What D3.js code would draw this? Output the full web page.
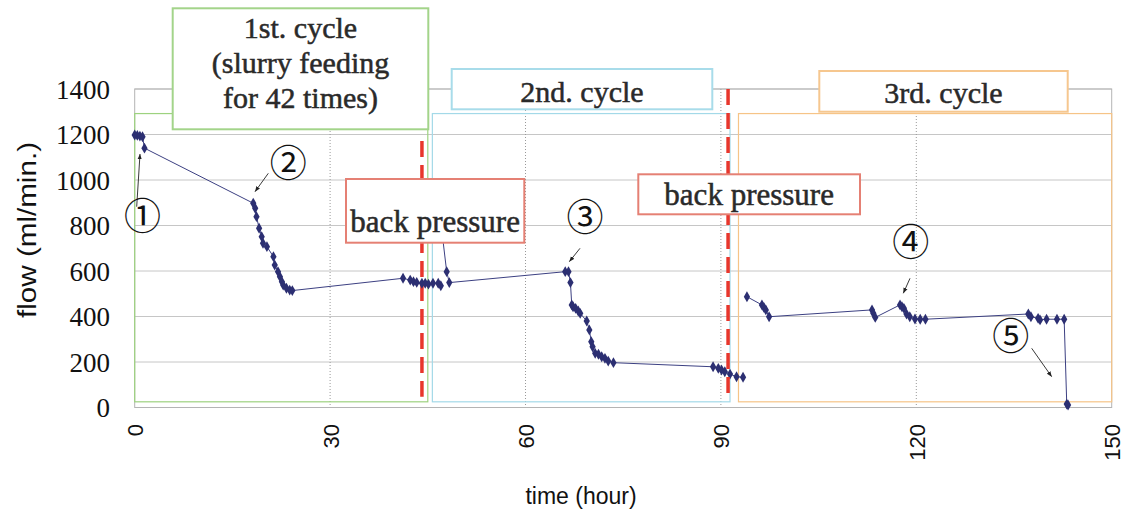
<!DOCTYPE html>
<html>
<head>
<meta charset="utf-8">
<script src="https://cdn.jsdelivr.net/npm/d3@7"></script>
<style>
body { margin: 0; background: #fff; }
</style>
</head>
<body>
<div id="container"></div>
<script>
var width = 1127,
    height = 519,
    margin = { left: 134.7, top: 89, right: 15.3, bottom: 111.5 },
    g_width = width - margin.left - margin.right,
    g_height = height - margin.top - margin.bottom;

// [hour, flow]
var cycle1 = [[0, 1198], [0.4, 1196], [0.8, 1193], [1.2, 1190], [1.5, 1140],
  [18.2, 898], [18.5, 876], [18.7, 839], [19.1, 788], [19.5, 751], [19.7, 722],
  [20.3, 707], [21.3, 663], [21.5, 626], [22.0, 597], [22.3, 575], [22.6, 553],
  [22.8, 538], [23.3, 524], [23.8, 516], [24.2, 514],
  [41.2, 568], [42.3, 560], [42.8, 553], [43.3, 550], [44.1, 546], [44.6, 546],
  [45.1, 542], [45.8, 546], [46.6, 546], [47.0, 535]];

var cycle2 = [[46.7, 886], [47.9, 597], [48.3, 549], [66.1, 597], [66.6, 597],
  [66.9, 549], [67.1, 451], [67.3, 443], [67.7, 436], [68.1, 424], [68.4, 414],
  [69.4, 380], [69.8, 341], [70.1, 289], [70.3, 267], [70.7, 238], [71.2, 234],
  [71.7, 223], [72.2, 216], [72.7, 204], [73.5, 197],
  [88.8, 179], [89.6, 172], [90.1, 165], [90.6, 157], [91.4, 147], [92.4, 135], [93.4, 133]];

var cycle3 = [[94.0, 487], [96.3, 451], [96.6, 440], [96.9, 429], [97.4, 399],
  [113.2, 429], [113.4, 414], [113.7, 396], [117.5, 451], [117.8, 443], [118.1, 436],
  [118.5, 411], [119.0, 399], [119.8, 389], [120.6, 388], [121.4, 388],
  [137.2, 411], [137.6, 399], [138.7, 392], [139.0, 385], [140.0, 388], [141.6, 388],
  [142.7, 388], [143.1, 15], [143.3, 11]];

var x_ticks = [0, 30, 60, 90, 120, 150];
var y_ticks = [0, 200, 400, 600, 800, 1000, 1200, 1400];

// cycle spans (hours) and their frame colours
var cycle_spans = [[0, 45.0], [45.7, 91.4], [92.7, 150]];
var cycle_colors = ["#9dd27f", "#a3d9e8", "#f6c487"];
var span_top = 1292, span_bottom = 25;

// back pressure dashed lines: hour, from flow, to flow
var bp_lines = [[44.1, 1171, 47], [91.1, 1400, 60]];

var svg = d3.select("#container")
  .append("svg")
  .attr("width", width)
  .attr("height", height)
  .style("font-family", "'Liberation Sans', Arial, sans-serif");

var g = svg.append("g")
  .attr("transform", "translate(" + margin.left + "," + margin.top + ")");

var scale_x = d3.scaleLinear().domain([0, 150]).range([0, g_width]);
var scale_y = d3.scaleLinear().domain([0, 1400]).range([g_height, 0]);

// grid
g.selectAll(".hgrid").data(y_ticks.slice(1))
  .enter().append("line")
  .attr("x1", 0).attr("x2", g_width)
  .attr("y1", scale_y).attr("y2", scale_y)
  .attr("stroke", "#c6c6c6").attr("stroke-width", 1);

g.selectAll(".vgrid").data(x_ticks.slice(1, -1))
  .enter().append("line")
  .attr("x1", scale_x).attr("x2", scale_x)
  .attr("y1", 0).attr("y2", g_height)
  .attr("stroke", "#999").attr("stroke-width", 1)
  .attr("stroke-dasharray", "1,2");

g.append("rect")
  .attr("width", g_width).attr("height", g_height)
  .attr("fill", "none").attr("stroke", "#b4b4b4").attr("stroke-width", 1);

// cycle frames
g.selectAll(".span").data(cycle_spans)
  .enter().append("rect")
  .attr("x", function(d) { return scale_x(d[0]); })
  .attr("width", function(d) { return scale_x(d[1]) - scale_x(d[0]); })
  .attr("y", scale_y(span_top))
  .attr("height", scale_y(span_bottom) - scale_y(span_top))
  .attr("fill", "none")
  .attr("stroke", function(d, i) { return cycle_colors[i]; })
  .attr("stroke-width", 1.2);

// first dashed line (behind the first back pressure box)
function dashLine(d) {
  g.append("line")
    .attr("x1", scale_x(d[0])).attr("x2", scale_x(d[0]))
    .attr("y1", scale_y(d[1])).attr("y2", scale_y(d[2]))
    .attr("stroke", "#e8362c").attr("stroke-width", 3.5)
    .attr("stroke-dasharray", "16,8");
}
dashLine(bp_lines[0]);

// data
var line_generator = d3.line()
  .x(function(d) { return scale_x(d[0]); })
  .y(function(d) { return scale_y(d[1]); });

var symbol = d3.symbol().type(d3.symbolDiamond).size(34);

[cycle1, cycle2, cycle3].forEach(function(data) {
  g.append("path")
    .attr("d", line_generator(data))
    .attr("fill", "none")
    .attr("stroke", "#3c4082")
    .attr("stroke-width", 1);
  g.selectAll(null).data(data)
    .enter().append("path")
    .attr("d", symbol)
    .attr("transform", function(d) { return "translate(" + scale_x(d[0]) + "," + scale_y(d[1]) + ")"; })
    .attr("fill", "#2c2f72");
});

// axes
var x_axis = d3.axisBottom(scale_x).tickValues(x_ticks).tickSize(0).tickFormat(d3.format("d"));
var gx = g.append("g").attr("transform", "translate(0," + g_height + ")").call(x_axis);
gx.select(".domain").remove();
gx.selectAll("text")
  .attr("transform", "rotate(-90)")
  .attr("x", -16.5).attr("y", 0).attr("dy", "0.36em")
  .attr("text-anchor", "end")
  .attr("font-size", 22)
  .attr("font-family", "'Liberation Sans', Arial, sans-serif")
  .attr("fill", "#111");

var y_axis = d3.axisLeft(scale_y).tickValues(y_ticks).tickSize(0).tickPadding(24.7).tickFormat(d3.format("d"));
var gy = g.append("g").call(y_axis);
gy.select(".domain").remove();
gy.selectAll("text")
  .attr("dy", "0.34em")
  .attr("font-size", 27)
  .attr("font-family", "'Liberation Serif', 'Times New Roman', serif")
  .attr("fill", "#111");

svg.append("text")
  .attr("x", 581).attr("y", 496).attr("dy", "0.35em")
  .attr("text-anchor", "middle")
  .attr("font-size", 23)
  .attr("fill", "#111")
  .text("time (hour)");

svg.append("text")
  .attr("transform", "translate(36,230) rotate(-90)")
  .attr("text-anchor", "middle")
  .attr("font-size", 25)
  .attr("textLength", 176)
  .attr("lengthAdjust", "spacingAndGlyphs")
  .attr("fill", "#111")
  .text("flow (ml/min.)");

// annotation boxes
function box(x, y, w, h, color, lines, baseline, step, size) {
  svg.append("rect")
    .attr("x", x).attr("y", y).attr("width", w).attr("height", h)
    .attr("fill", "#fff").attr("stroke", color).attr("stroke-width", 2);
  lines.forEach(function(t, i) {
    svg.append("text")
      .attr("x", x + w / 2).attr("y", baseline + i * step)
      .attr("text-anchor", "middle")
      .attr("font-family", "'Liberation Serif', 'Times New Roman', serif")
      .attr("font-size", size)
      .attr("fill", "#2a2a2a")
      .attr("stroke", "#2a2a2a")
      .attr("stroke-width", 0.5)
      .text(t);
  });
}

box(172.7, 8.3, 255.6, 121, "#a3d48a", ["1st. cycle", "(slurry feeding", "for 42 times)"], 37.5, 35, 30);
box(451.7, 69, 260.6, 40.3, "#a8dcea", ["2nd. cycle"], 101.7, 0, 30);
box(819.3, 71, 248.4, 40.7, "#f6c78f", ["3rd. cycle"], 103.3, 0, 30);
box(346, 179, 178.3, 63.7, "#e58074", ["back pressure"], 231.7, 0, 31);
box(638.3, 174.3, 221.7, 40, "#e58074", ["back pressure"], 205, 0, 31);

// second dashed line runs over its box
dashLine(bp_lines[1]);

// circled markers with arrows
svg.append("defs").append("marker")
  .attr("id", "arr")
  .attr("viewBox", "0 0 10 10")
  .attr("refX", 10).attr("refY", 5)
  .attr("markerWidth", 6).attr("markerHeight", 6)
  .attr("orient", "auto")
  .append("path").attr("d", "M0,1 L10,5 L0,9 Z").attr("fill", "#222");

var marks = [
  { t: "\u2460", x: 142.5, y: 216.7, a: [136.7, 206.7, 140, 154] },
  { t: "\u2461", x: 288.3, y: 164, a: [268.3, 173.3, 255, 191.7] },
  { t: "\u2462", x: 585, y: 218, a: [580, 248.3, 569.3, 261.7] },
  { t: "\u2463", x: 910.7, y: 243.3, a: [910, 278.3, 903.3, 293.3] },
  { t: "\u2464", x: 1010.7, y: 337.3, a: [1031.7, 348.3, 1051.7, 376.7] }
];

marks.forEach(function(m) {
  svg.append("line")
    .attr("x1", m.a[0]).attr("y1", m.a[1]).attr("x2", m.a[2]).attr("y2", m.a[3])
    .attr("stroke", "#222").attr("stroke-width", 0.9)
    .attr("marker-end", "url(#arr)");
  svg.append("text")
    .attr("x", m.x).attr("y", m.y).attr("dy", "0.35em")
    .attr("text-anchor", "middle")
    .attr("font-family", "'Noto Sans CJK JP', 'DejaVu Sans', sans-serif")
    .attr("font-size", 37)
    .attr("fill", "#111")
    .text(m.t);
});
</script>
</body>
</html>
